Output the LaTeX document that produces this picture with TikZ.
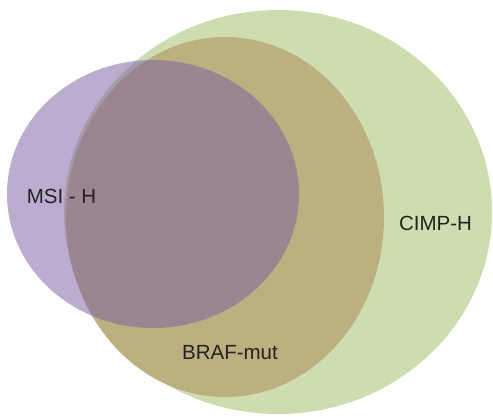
\documentclass[tikz,border=0pt]{standalone}
\usepackage{fontspec}
\setmainfont{Liberation Sans}
\definecolor{cimpgreen}{RGB}{206,221,175}
\definecolor{brafolive}{RGB}{188,176,128}
\definecolor{msipurple}{RGB}{121,91,161}
\definecolor{labeltext}{RGB}{34,34,34}
\tikzset{
  setlabel/.style={text=labeltext,inner sep=0pt,font=\fontsize{20.5}{24}\selectfont}
}
\begin{document}
\begin{tikzpicture}[x=1pt,y=-1pt]
                    \useasboundingbox (0,0) rectangle (493,416);

                    % Define centres
                    \coordinate (G) at (278,212);
                    \coordinate (B) at (225,217);
                    \coordinate (M) at (153,194);

                    % Fill sets
                    \fill[cimpgreen] (G) ellipse [x radius=214, y radius=202];
                    \fill[brafolive] (B) ellipse [x radius=159, y radius=180];
                    \fill[msipurple,opacity=0.5] (M) ellipse [x radius=146, y radius=134];

                    % Set labels
                    \node[setlabel] (msi) at (61.5,196) {MSI - H};
                    \node[setlabel] (cimp) at (435.5,223) {CIMP-H};
                    \node[setlabel] (braf) at (230,353) {BRAF-mut};

                \end{tikzpicture}
\end{document}
